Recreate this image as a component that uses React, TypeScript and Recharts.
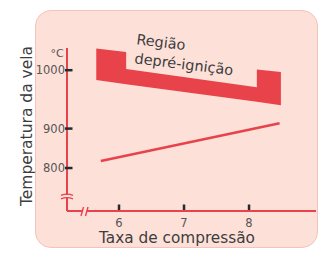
import React from "react";
import { ComposedChart, Area, Line, XAxis, YAxis, ReferenceDot, Label } from "recharts";

// compression ratio ticks and temperature ticks
const xTicks = [6, 7, 8];
const yTicks = [800, 900, 1000];

// spark plug temperature line
const lineRatio = [5.72, 8.47];
const lineTemp = [818, 909];

// pre-ignition band (bracket shape), low/high edge
const bandRatio = [5.65, 6.11, 6.11, 8.12, 8.12, 8.49];
const bandLow = [983, 976, 976, 946, 946, 940];
const bandHigh = [1037, 1031, 1002, 971, 1001, 997];

const X_MIN = 5.2;
const X_MAX = 9.03;
const Y_MIN = 691;
const Y_MAX = 1038;

const RED = "#e8424b";
const BG = "#fde1d9";
const INK = "#3d3d3d";

const lineData = lineRatio.map((x, i) => ({ x, temp: lineTemp[i] }));
const bandData = bandRatio.map((x, i) => ({ x, range: [bandLow[i], bandHigh[i]] }));

// the drawing spaces 900-1000 wider than 800-900, so the y scale is piecewise
const warp = (v: number) => (v <= 900 ? (v - 900) * 0.395 : (v - 900) * 0.585);

function makeScale(dom: number[] = [0, 1], rng: number[] = [0, 1]): any {
  const s: any = (v: number) => {
    const w0 = warp(dom[0]);
    const w1 = warp(dom[1]);
    return rng[0] + ((warp(v) - w0) / (w1 - w0)) * (rng[1] - rng[0]);
  };
  s.domain = (d?: number[]) => {
    if (d === undefined) return dom;
    dom = [...d];
    return s;
  };
  s.range = (r?: number[]) => {
    if (r === undefined) return rng;
    rng = [...r];
    return s;
  };
  s.copy = () => makeScale(dom, rng);
  s.ticks = () => yTicks;
  s.nice = () => s;
  s.clamp = () => s;
  s.invert = (p: number) => {
    const w0 = warp(dom[0]);
    const w1 = warp(dom[1]);
    const w = w0 + ((p - rng[0]) / (rng[1] - rng[0])) * (w1 - w0);
    return w <= 0 ? 900 + w / 0.395 : 900 + w / 0.585;
  };
  return s;
}

const YTick = (props: any) => {
  const { x, y, payload } = props;
  return (
    <text x={x + 1} y={y} dy="0.36em" textAnchor="end" fontSize={11.5} fill="#555">
      {payload.value}
    </text>
  );
};

const XTick = (props: any) => {
  const { x, y, payload } = props;
  return (
    <text x={x} y={y + 16} textAnchor="middle" fontSize={11.5} fill="#555">
      {payload.value}
    </text>
  );
};

// small dark tick marks, drawn at the tick values
const YMark = (props: any) => {
  const { cx, cy } = props;
  return <rect x={cx - 2} y={cy - 1.25} width={7.5} height={2.5} fill="#2a2a2a" />;
};

const XMark = (props: any) => {
  const { cx, cy } = props;
  return <rect x={cx - 1.25} y={cy - 6.5} width={2.5} height={5.5} fill="#2a2a2a" />;
};

const YBreak = (props: any) => {
  const { cx, cy } = props;
  return (
    <g>
      <rect x={cx - 3} y={cy - 1.5} width={6} height={3} fill={BG} />
      <path d={`M${cx - 6},${cy - 1} Q${cx},${cy - 3.5} ${cx + 6},${cy - 1}`} stroke={RED} strokeWidth={1.4} fill="none" />
      <path d={`M${cx - 6},${cy + 2.5} Q${cx},${cy} ${cx + 6},${cy + 2.5}`} stroke={RED} strokeWidth={1.4} fill="none" />
    </g>
  );
};

const XBreak = (props: any) => {
  const { cx, cy } = props;
  return (
    <g>
      <rect x={cx - 2} y={cy - 2} width={4} height={4} fill={BG} />
      <line x1={cx - 4} y1={cy + 5} x2={cx - 1.5} y2={cy - 4} stroke={RED} strokeWidth={1.4} />
      <line x1={cx + 0.5} y1={cy + 5} x2={cx + 3} y2={cy - 4} stroke={RED} strokeWidth={1.4} />
    </g>
  );
};

const RegionNote = (props: any) => {
  const { cx, cy } = props;
  return (
    <g fill={INK} fontSize={14.5}>
      <text x={cx} y={cy} dy="0.35em" textAnchor="middle" transform={`rotate(7 ${cx} ${cy})`}>
        Região
      </text>
      <text x={cx + 23} y={cy + 22} dy="0.35em" textAnchor="middle" transform={`rotate(7 ${cx + 23} ${cy + 22})`}>
        depré-ignição
      </text>
    </g>
  );
};

export default function App() {
  return (
    <div style={{ position: "fixed", left: 0, top: 0, width: 320, height: 254, background: "#fff", fontFamily: "DejaVu Sans" }}>
      <div
        style={{
          position: "absolute",
          left: 35,
          top: 10,
          width: 283,
          height: 238,
          background: BG,
          borderRadius: 16,
          border: "1px solid #f4c4bb",
          boxSizing: "border-box",
        }}
      />
      <div style={{ position: "absolute", left: 0, top: 0 }}>
        <ComposedChart width={320} height={254} margin={{ top: 48, right: 4, bottom: 42, left: 66 }}>
          <XAxis
            type="number"
            dataKey="x"
            domain={[X_MIN, X_MAX]}
            allowDataOverflow
            ticks={xTicks}
            height={1}
            tickSize={0}
            tickMargin={0}
            tickLine={false}
            tick={(p: any) => <XTick {...p} />}
            axisLine={{ stroke: RED, strokeWidth: 2 }}
          >
            <Label
              content={(p: any) => (
                <text x={p.viewBox.x + 110} y={p.viewBox.y + 32} textAnchor="middle" fontSize={15.3} fill={INK}>
                  Taxa de compressão
                </text>
              )}
            />
          </XAxis>
          <YAxis
            type="number"
            domain={[Y_MIN, Y_MAX]}
            allowDataOverflow
            scale={makeScale()}
            ticks={yTicks}
            width={1}
            tickSize={0}
            tickMargin={3}
            tickLine={false}
            tick={(p: any) => <YTick {...p} />}
            axisLine={{ stroke: RED, strokeWidth: 2 }}
          >
            <Label
              content={(p: any) => {
                const ax = p.viewBox.x + p.viewBox.width;
                const tx = ax - 40;
                const ty = p.viewBox.y + 78;
                return (
                  <g>
                    <text x={ax - 10} y={p.viewBox.y + 9} textAnchor="middle" fontSize={11} fill="#555">
                      °C
                    </text>
                    <text x={tx} y={ty} dy="0.35em" textAnchor="middle" fontSize={15.5} fill={INK} transform={`rotate(-90 ${tx} ${ty})`}>
                      Temperatura da vela
                    </text>
                  </g>
                );
              }}
            />
          </YAxis>
          <Area data={bandData} dataKey="range" type="linear" fill={RED} fillOpacity={1} stroke="none" isAnimationActive={false} />
          <Line data={lineData} dataKey="temp" type="linear" stroke={RED} strokeWidth={2.5} dot={false} isAnimationActive={false} />
          {yTicks.map((v) => (
            <ReferenceDot key={`ym${v}`} x={X_MIN} y={v} r={0} ifOverflow="visible" shape={<YMark />} />
          ))}
          {xTicks.map((v) => (
            <ReferenceDot key={`xm${v}`} x={v} y={Y_MIN} r={0} ifOverflow="visible" shape={<XMark />} />
          ))}
          <ReferenceDot x={X_MIN} y={728} r={0} ifOverflow="visible" shape={<YBreak />} />
          <ReferenceDot x={5.477} y={Y_MIN} r={0} ifOverflow="visible" shape={<XBreak />} />
          <ReferenceDot x={6.646} y={1048} r={0} ifOverflow="visible" shape={<RegionNote />} />
        </ComposedChart>
      </div>
    </div>
  );
}
